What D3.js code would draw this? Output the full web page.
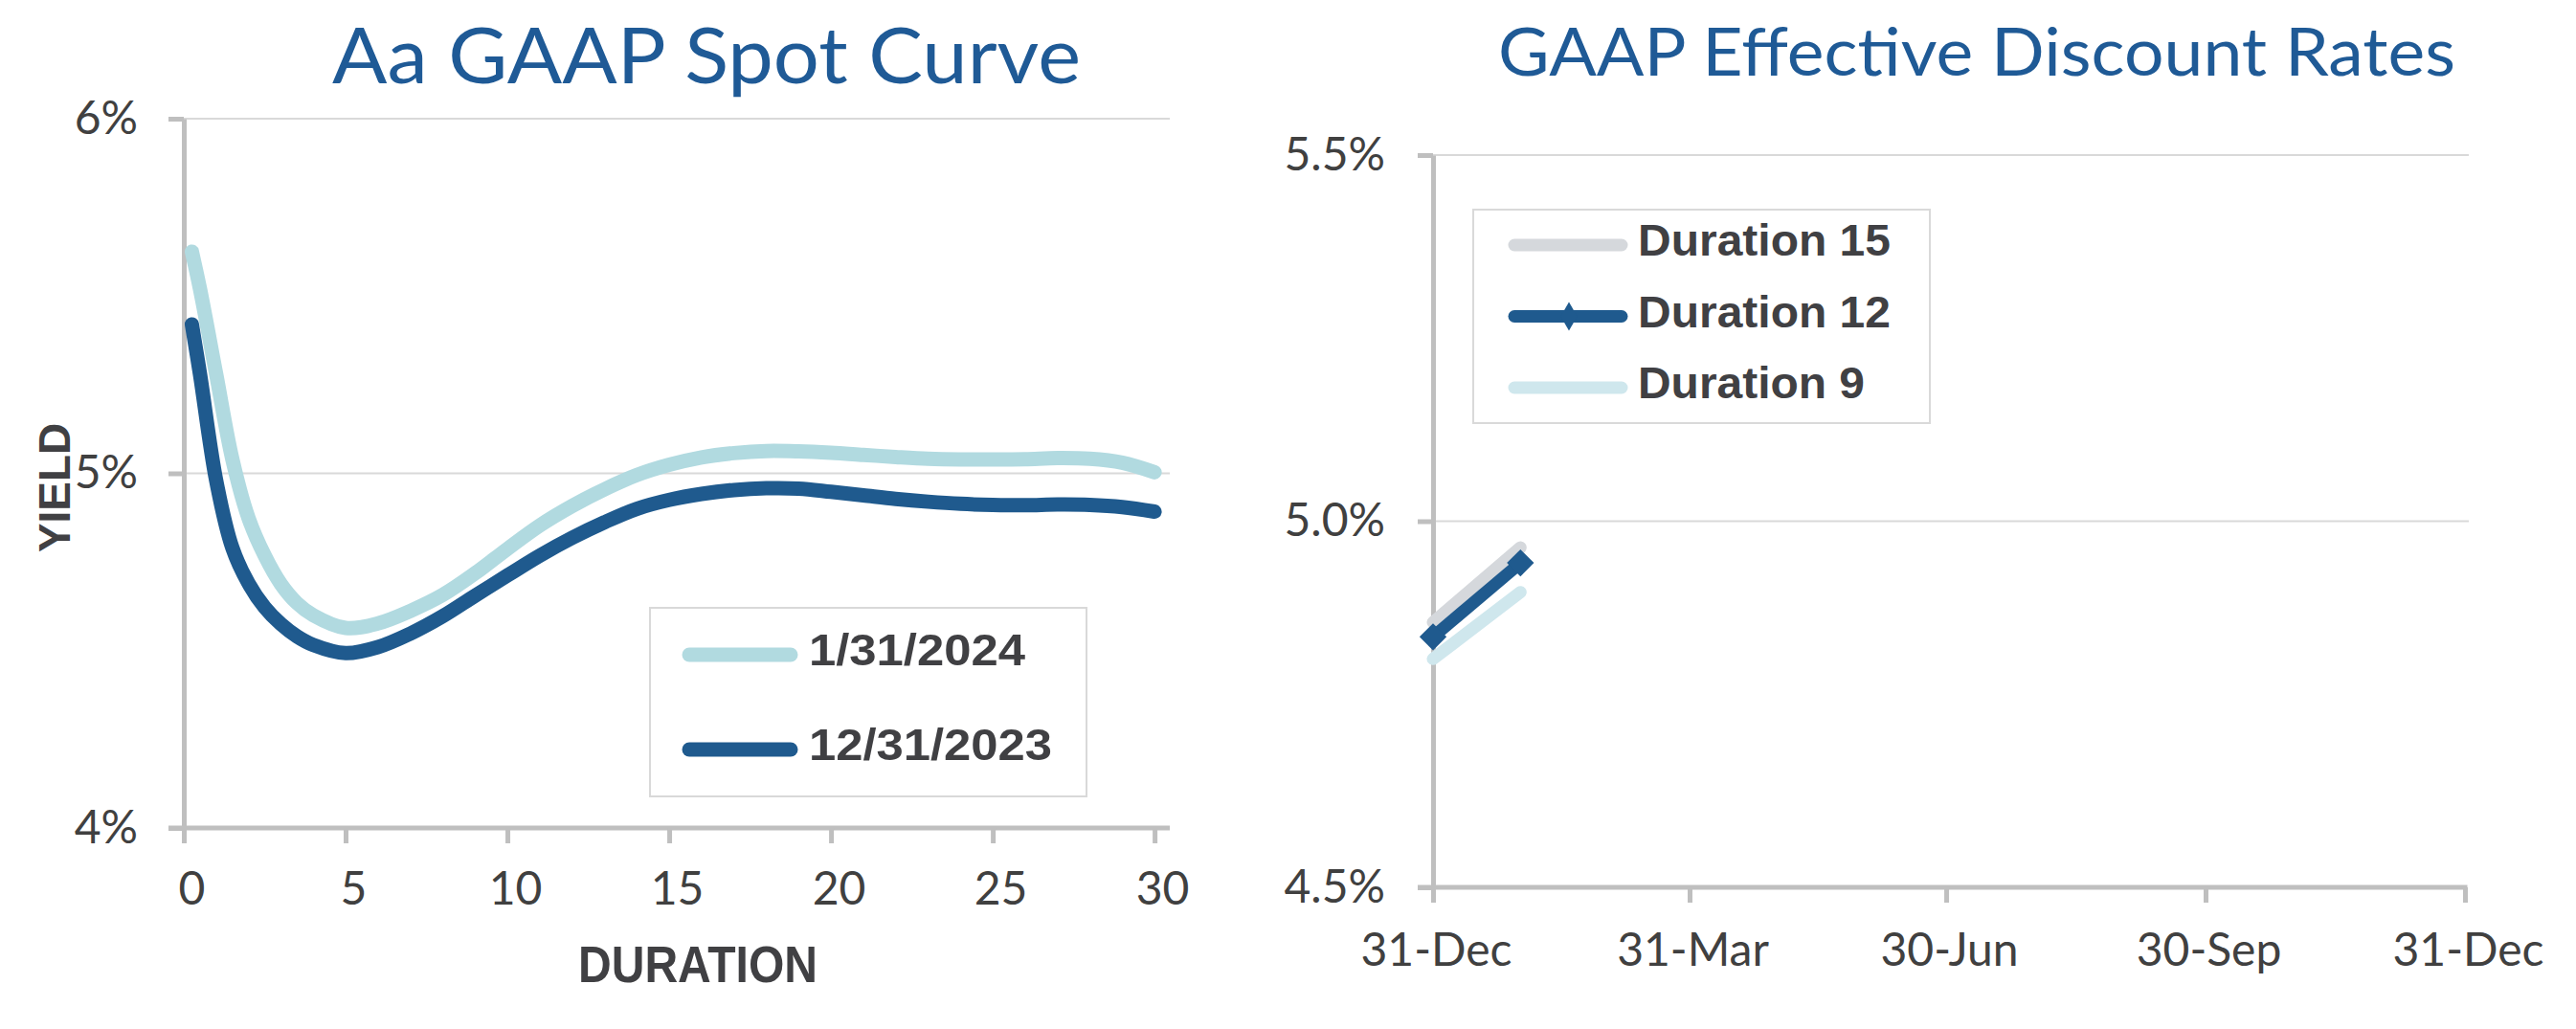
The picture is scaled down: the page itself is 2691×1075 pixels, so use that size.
<!DOCTYPE html>
<html>
<head>
<meta charset="utf-8">
<script src="https://cdn.jsdelivr.net/npm/d3@7"></script>
<style>
  html, body { margin: 0; padding: 0; background: #ffffff; }
  svg { display: block; }
</style>
</head>
<body>
<svg id="chart" width="2691" height="1075"></svg>
<script>
// ---------- DATA ----------
const durations = [0.25, 0.5, 1, 1.5, 2, 2.5, 3, 3.5, 4, 5, 6, 7, 8, 9, 10, 11, 12, 13, 14, 15,
                   16, 17, 18, 19, 20, 21, 22, 23, 24, 25, 26, 27, 28, 29, 30];
const yield20240131 = [5.625, 5.52, 5.28, 5.04, 4.874, 4.768, 4.688, 4.634, 4.60, 4.564, 4.577, 4.612,
                       4.657, 4.718, 4.787, 4.853, 4.908, 4.955, 4.995, 5.024, 5.045, 5.057, 5.063,
                       5.062, 5.058, 5.052, 5.046, 5.041, 5.039, 5.039, 5.040, 5.043, 5.041, 5.030, 5.003];
const yield20231231 = [5.42, 5.28, 4.98, 4.79, 4.69, 4.622, 4.575, 4.54, 4.516, 4.493, 4.51, 4.548,
                       4.597, 4.655, 4.712, 4.768, 4.818, 4.862, 4.90, 4.925, 4.942, 4.953, 4.958,
                       4.957, 4.948, 4.938, 4.928, 4.920, 4.914, 4.911, 4.910, 4.912, 4.911, 4.905, 4.892];
const spotSeriesNames = ["1/31/2024", "12/31/2023"];
const spotYTicks = [4, 5, 6];
const spotXTicks = [0, 5, 10, 15, 20, 25, 30];

const rateDates = ["2023-12-31", "2024-01-31"];
const duration15 = [4.862, 4.964];
const duration12 = [4.842, 4.943];
const duration9  = [4.812, 4.903];
const rateSeriesNames = ["Duration 15", "Duration 12", "Duration 9"];
const rateYTicks = [4.5, 5.0, 5.5];
const rateXTicks = ["2023-12-31", "2024-03-31", "2024-06-30", "2024-09-30", "2024-12-31"];

// ---------- STYLE ----------
const C = {
  title: "#1f5a96", text: "#404040", bold: "#404043",
  axis: "#bfbfbf", grid: "#d9d9d9",
  light: "#b1dae0", dark: "#1f5a8e", gray: "#d5d8dc", pale: "#cfe7ed"
};
const tickFont = "Lato, 'Open Sans', 'DejaVu Sans', sans-serif";
const boldFont = "'Liberation Sans Narrow', 'Arial Narrow', 'Liberation Sans', Arial, sans-serif";

const svg = d3.select("#chart");
svg.append("rect").attr("width", 2691).attr("height", 1075).attr("fill", "#fff");
const parse = d3.timeParse("%Y-%m-%d");

function styleAxis(g) {
  g.select(".domain").attr("stroke", C.axis).attr("stroke-width", 5);
  g.selectAll(".tick line").attr("stroke", C.axis).attr("stroke-width", 5);
  g.selectAll(".tick text").attr("fill", C.text).attr("font-family", tickFont).attr("font-size", 48);
}

// ================= LEFT CHART =================
const xL = d3.scaleLinear().domain([0, 30.47]).range([192, 1222]);
const yL = d3.scaleLinear().domain([4, 6]).range([865, 124]);

svg.append("g").selectAll("line").data(spotYTicks.filter(v => v !== 4)).join("line")
  .attr("x1", xL(0)).attr("x2", xL.range()[1])
  .attr("y1", d => yL(d)).attr("y2", d => yL(d))
  .attr("stroke", C.grid).attr("stroke-width", 2);

const gyL = svg.append("g").attr("transform", `translate(${xL(0)},0)`)
  .call(d3.axisLeft(yL).tickValues(spotYTicks).tickFormat(d => d + "%").tickSize(16).tickSizeOuter(0).tickPadding(32));
styleAxis(gyL);
const gxL = svg.append("g").attr("transform", `translate(0,${yL(4)})`)
  .call(d3.axisBottom(xL).tickValues(spotXTicks).tickFormat(d3.format("d")).tickSize(16).tickSizeOuter(0).tickPadding(30));
styleAxis(gxL);
gxL.selectAll(".tick text").attr("dx", 8);
gxL.select(".domain").attr("d", `M${xL(0) - 16},0H${xL.range()[1]}`);

const spotLine = d3.line().x(d => xL(d[0])).y(d => yL(d[1])).curve(d3.curveCatmullRom.alpha(0.5));
const spotData = [
  { name: spotSeriesNames[0], color: C.light, pts: durations.map((d, i) => [d, yield20240131[i]]) },
  { name: spotSeriesNames[1], color: C.dark,  pts: durations.map((d, i) => [d, yield20231231[i]]) }
];
svg.append("g").selectAll("path").data(spotData).join("path")
  .attr("d", d => spotLine(d.pts))
  .attr("fill", "none").attr("stroke", d => d.color)
  .attr("stroke-width", 15).attr("stroke-linecap", "round").attr("stroke-linejoin", "round");

const legL = svg.append("g");
legL.append("rect").attr("x", 679).attr("y", 635).attr("width", 456).attr("height", 197)
  .attr("fill", "#fff").attr("stroke", C.grid).attr("stroke-width", 2);
const legLWidths = [226, 254];
spotData.forEach((s, i) => {
  const cy = 684 + i * 99;
  legL.append("line").attr("x1", 720).attr("x2", 826).attr("y1", cy).attr("y2", cy)
    .attr("stroke", s.color).attr("stroke-width", 15).attr("stroke-linecap", "round");
  legL.append("text").attr("x", 845).attr("y", cy + 11).text(s.name)
    .attr("font-family", boldFont).attr("font-weight", "bold").attr("font-size", 46)
    .attr("fill", C.bold).attr("textLength", legLWidths[i]).attr("lengthAdjust", "spacingAndGlyphs");
});

svg.append("text").attr("x", 347).attr("y", 87).text("Aa GAAP Spot Curve")
  .attr("font-family", tickFont).attr("font-size", 82).attr("fill", C.title)
  .attr("textLength", 782).attr("lengthAdjust", "spacingAndGlyphs");
svg.append("text").attr("x", 604).attr("y", 1026).text("DURATION")
  .attr("font-family", boldFont).attr("font-weight", "bold").attr("font-size", 54).attr("fill", C.bold)
  .attr("textLength", 250).attr("lengthAdjust", "spacingAndGlyphs");
svg.append("text").attr("transform", "translate(73,577) rotate(-90)").text("YIELD")
  .attr("font-family", boldFont).attr("font-weight", "bold").attr("font-size", 47).attr("fill", C.bold)
  .attr("textLength", 135).attr("lengthAdjust", "spacingAndGlyphs");

// ================= RIGHT CHART =================
const xR = d3.scaleTime().domain([parse("2023-12-31"), parse("2024-12-31")]).range([1497, 2575]);
const yR = d3.scaleLinear().domain([4.5, 5.5]).range([927, 162]);

svg.append("g").selectAll("line").data(rateYTicks.filter(v => v !== 4.5)).join("line")
  .attr("x1", xR.range()[0]).attr("x2", 2579)
  .attr("y1", d => yR(d)).attr("y2", d => yR(d))
  .attr("stroke", C.grid).attr("stroke-width", 2);

const gyR = svg.append("g").attr("transform", `translate(${xR.range()[0]},0)`)
  .call(d3.axisLeft(yR).tickValues(rateYTicks).tickFormat(d => d.toFixed(1) + "%").tickSize(16).tickSizeOuter(0).tickPadding(34));
styleAxis(gyR);
const gxR = svg.append("g").attr("transform", `translate(0,${yR(4.5)})`)
  .call(d3.axisBottom(xR).tickValues(rateXTicks.map(parse)).tickFormat(d3.timeFormat("%d-%b")).tickSize(16).tickSizeOuter(0).tickPadding(32));
styleAxis(gxR);
gxR.selectAll(".tick text").attr("dx", 3);
gxR.select(".domain").attr("d", `M${xR.range()[0] - 16},0H${xR.range()[1] + 2.5}`);

const rateLine = d3.line().x(d => xR(d[0])).y(d => yR(d[1]));
const rateData = [
  { name: rateSeriesNames[0], color: C.gray, marker: false, vals: duration15 },
  { name: rateSeriesNames[1], color: C.dark, marker: true,  vals: duration12 },
  { name: rateSeriesNames[2], color: C.pale, marker: false, vals: duration9 }
].map(s => Object.assign(s, { pts: rateDates.map((d, i) => [parse(d), s.vals[i]]) }));

const drawOrder = [rateData[0], rateData[2], rateData[1]];
svg.append("g").selectAll("path").data(drawOrder).join("path")
  .attr("d", d => rateLine(d.pts))
  .attr("fill", "none").attr("stroke", d => d.color)
  .attr("stroke-width", 13).attr("stroke-linecap", d => d.marker ? "butt" : "round");

const diamond = d3.symbol().type(d3.symbolSquare).size(400);
svg.append("g").selectAll("path").data(rateData[1].pts).join("path")
  .attr("d", diamond)
  .attr("transform", d => `translate(${xR(d[0])},${yR(d[1])}) rotate(45)`)
  .attr("fill", C.dark);

const legR = svg.append("g");
legR.append("rect").attr("x", 1539).attr("y", 219).attr("width", 477).attr("height", 223)
  .attr("fill", "#fff").attr("stroke", C.grid).attr("stroke-width", 2);
const legRWidths = [264, 264, 237];
rateData.forEach((s, i) => {
  const cy = 256 + i * 74.5;
  legR.append("line").attr("x1", 1582).attr("x2", 1694).attr("y1", cy).attr("y2", cy)
    .attr("stroke", s.color).attr("stroke-width", 13).attr("stroke-linecap", "round");
  if (s.marker) {
    legR.append("path").attr("d", d3.symbol().type(d3.symbolDiamond).size(260))
      .attr("transform", `translate(1639,${cy})`).attr("fill", s.color);
  }
  legR.append("text").attr("x", 1711).attr("y", cy + 11).text(s.name)
    .attr("font-family", boldFont).attr("font-weight", "bold").attr("font-size", 46)
    .attr("fill", C.bold).attr("textLength", legRWidths[i]).attr("lengthAdjust", "spacingAndGlyphs");
});

svg.append("text").attr("x", 1565).attr("y", 79).text("GAAP Effective Discount Rates")
  .attr("font-family", tickFont).attr("font-size", 70).attr("fill", C.title)
  .attr("textLength", 1000).attr("lengthAdjust", "spacingAndGlyphs");
</script>
</body>
</html>
